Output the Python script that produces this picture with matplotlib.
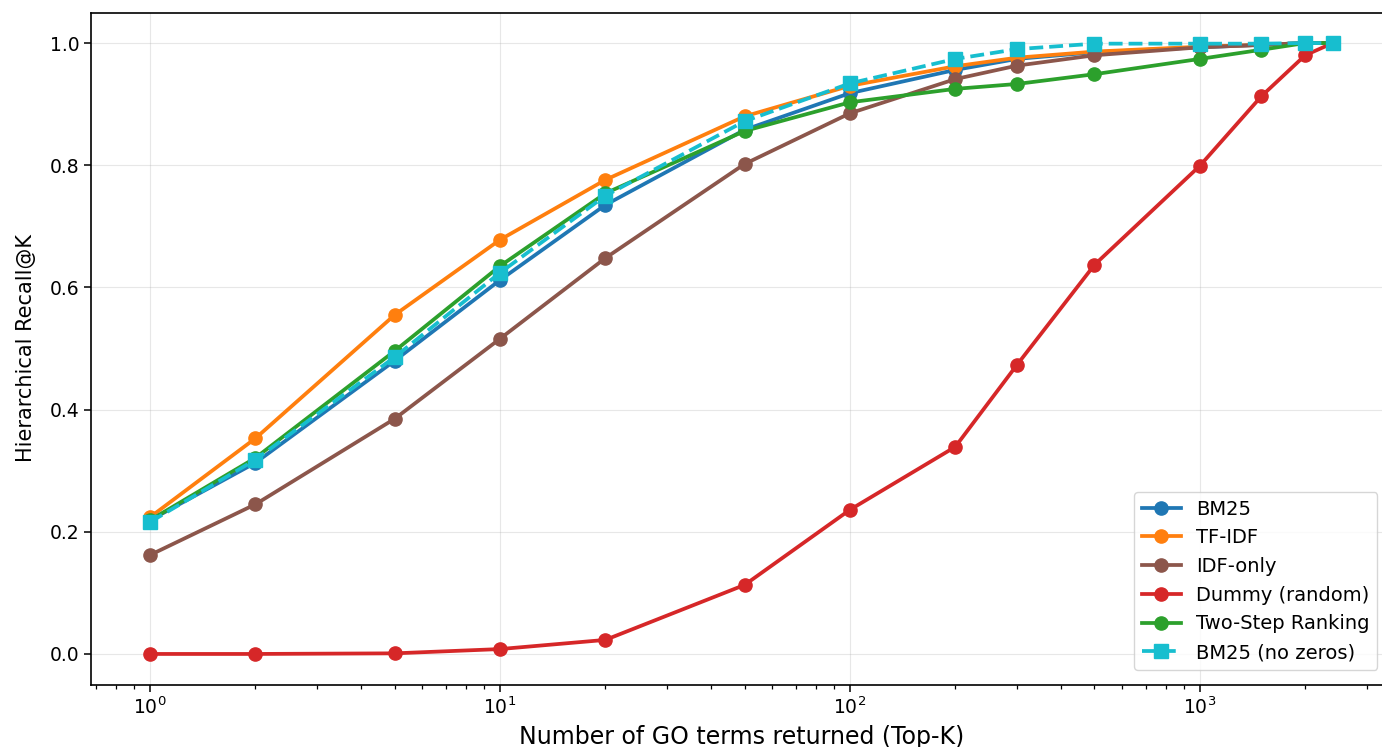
import matplotlib
matplotlib.use("Agg")
import matplotlib.pyplot as plt

k_values = [1, 2, 5, 10, 20, 50, 100, 200, 300, 500, 1000, 1500, 2000, 2400]

bm25 = [0.219, 0.313, 0.480, 0.612, 0.735, 0.858, 0.918, 0.956, 0.974, 0.985, 0.993, 0.997, 1.0, 1.0]
tfidf = [0.224, 0.353, 0.555, 0.678, 0.776, 0.880, 0.930, 0.962, 0.976, 0.986, 0.994, 0.997, 1.0, 1.0]
idf_only = [0.162, 0.245, 0.385, 0.516, 0.648, 0.802, 0.885, 0.941, 0.963, 0.980, 0.993, 0.997, 1.0, 1.0]
dummy = [0.0, 0.0, 0.001, 0.008, 0.023, 0.113, 0.236, 0.339, 0.473, 0.637, 0.799, 0.913, 0.980, 1.0]
two_step = [0.219, 0.321, 0.496, 0.635, 0.754, 0.856, 0.903, 0.925, 0.933, 0.949, 0.974, 0.989, 1.0, 1.0]
bm25_nz = [0.216, 0.318, 0.486, 0.624, 0.750, 0.872, 0.934, 0.974, 0.990, 0.999, 0.999, 0.999, 1.0, 1.0]

series = [
    ("BM25", bm25, "tab:blue", "o", "-"),
    ("TF-IDF", tfidf, "tab:orange", "o", "-"),
    ("IDF-only", idf_only, "tab:brown", "o", "-"),
    ("Dummy (random)", dummy, "tab:red", "o", "-"),
    ("Two-Step Ranking", two_step, "tab:green", "o", "-"),
    ("BM25 (no zeros)", bm25_nz, "tab:cyan", "s", "--"),
]

fig = plt.figure(figsize=(13.82, 7.47), dpi=100)
ax = fig.add_axes([91 / 1382, (747 - 684.5) / 747, 1301 / 1382, 672 / 747])

for name, vals, col, mk, ls in series:
    ax.plot(k_values, vals, marker=mk, linestyle=ls, color=col, label=name,
            linewidth=2.7, markersize=9.5)

ax.set_xscale("log")
ax.set_xlabel("Number of GO terms returned (Top-K)", fontsize=17, labelpad=5)
ax.set_ylabel("Hierarchical Recall@K", fontsize=15, labelpad=10)
ax.tick_params(axis="both", which="major", labelsize=13.5, width=1.1, length=5)
ax.tick_params(axis="both", which="minor", width=0.9, length=3)
ax.grid(True, alpha=0.3)
for sp in ax.spines.values():
    sp.set_linewidth(1.2)
ax.legend(loc="lower right", fontsize=14, borderaxespad=0.75)

fig.savefig("out.png", dpi=100)
